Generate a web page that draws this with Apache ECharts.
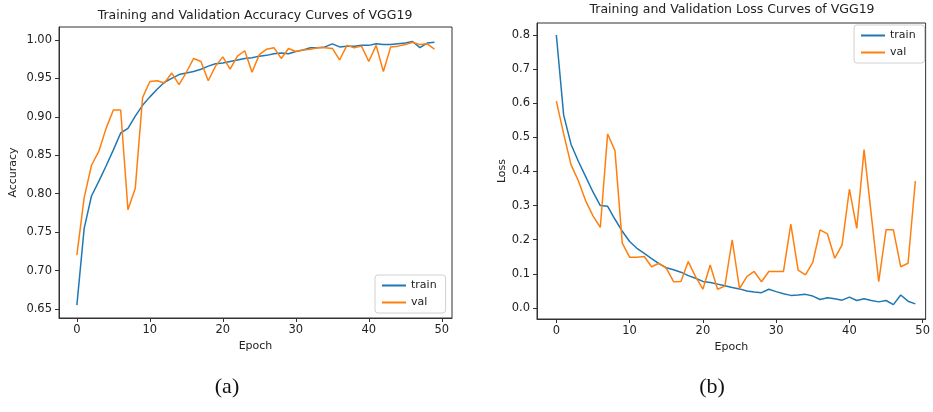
<!DOCTYPE html>
<html>
<head>
<meta charset="utf-8">
<script src="https://cdn.jsdelivr.net/npm/echarts@6/dist/echarts.min.js"></script>
<style>
html,body{margin:0;padding:0;background:#fff;}
#chart{width:933px;height:412px;}
</style>
</head>
<body>
<div id="chart"></div>
<script>
const epochs = Array.from({length: 50}, (_, i) => i);
const xTicks = [0, 10, 20, 30, 40, 50];
const accTicks = [0.65, 0.70, 0.75, 0.80, 0.85, 0.90, 0.95, 1.00];
const lossTicks = [0.0, 0.1, 0.2, 0.3, 0.4, 0.5, 0.6, 0.7, 0.8];

const trainAcc = [0.655,0.755,0.797,0.816,0.836,0.857,0.879,0.885,0.901,0.915,
  0.926,0.936,0.945,0.950,0.955,0.957,0.959,0.962,0.966,0.969,
  0.970,0.972,0.974,0.976,0.977,0.979,0.980,0.982,0.983,0.982,
  0.985,0.987,0.990,0.990,0.991,0.995,0.991,0.992,0.992,0.993,
  0.993,0.995,0.994,0.994,0.995,0.996,0.998,0.990,0.996,0.997];
const valAcc = [0.720,0.795,0.837,0.855,0.885,0.909,0.909,0.779,0.807,0.925,
  0.946,0.947,0.944,0.957,0.942,0.958,0.976,0.972,0.947,0.966,
  0.978,0.962,0.979,0.986,0.958,0.981,0.988,0.990,0.976,0.989,
  0.985,0.987,0.988,0.990,0.990,0.989,0.974,0.993,0.990,0.992,
  0.972,0.993,0.959,0.991,0.992,0.994,0.997,0.994,0.995,0.988];
const trainLoss = [0.800,0.565,0.480,0.430,0.385,0.340,0.300,0.298,0.260,0.225,
  0.195,0.175,0.160,0.145,0.130,0.118,0.112,0.105,0.095,0.087,
  0.078,0.075,0.070,0.065,0.060,0.056,0.050,0.047,0.045,0.055,
  0.048,0.042,0.037,0.038,0.040,0.035,0.025,0.030,0.027,0.023,
  0.032,0.022,0.027,0.022,0.018,0.022,0.010,0.038,0.020,0.012];
const valLoss = [0.606,0.510,0.420,0.373,0.314,0.270,0.236,0.510,0.461,0.190,
  0.149,0.149,0.151,0.121,0.131,0.117,0.077,0.078,0.136,0.092,
  0.055,0.126,0.055,0.064,0.200,0.057,0.092,0.107,0.077,0.107,
  0.107,0.107,0.246,0.111,0.097,0.134,0.229,0.217,0.146,0.185,
  0.348,0.233,0.464,0.270,0.077,0.229,0.229,0.121,0.131,0.372];

const blue = '#1f77b4', orange = '#ff7f0e';
const font = 'DejaVu Sans';
const pair = (ys) => epochs.map((e, i) => [e, ys[i]]);

function xAxisCfg(gridIndex, min, max) {
  return {
    type: 'value', gridIndex, min, max,
    name: 'Epoch', nameLocation: 'middle', nameGap: 23,
    nameTextStyle: {fontFamily: font, fontSize: 11, color: '#222'},
    axisLine: {show: true, onZero: false, lineStyle: {color: '#333', width: 1}},
    axisTick: {show: true, length: 4, lineStyle: {color: '#333'}, customValues: xTicks},
    axisLabel: {fontFamily: font, fontSize: 11.5, color: '#222', margin: 6, customValues: xTicks,
      formatter: v => String(v)},
    splitLine: {show: false}
  };
}
function yAxisCfg(gridIndex, min, max, ticks, digits, name, gap) {
  return {
    type: 'value', gridIndex, min, max,
    name, nameLocation: 'middle', nameGap: gap,
    nameTextStyle: {fontFamily: font, fontSize: 11, color: '#222'},
    axisLine: {show: true, onZero: false, lineStyle: {color: '#333', width: 1}},
    axisTick: {show: true, length: 4, lineStyle: {color: '#333'}, customValues: ticks},
    axisLabel: {fontFamily: font, fontSize: 11.5, color: '#222', margin: 7, customValues: ticks,
      formatter: v => Number(v).toFixed(digits)},
    splitLine: {show: false}
  };
}
function lineSeries(name, data, color, xi, yi) {
  return {
    type: 'line', name, data, xAxisIndex: xi, yAxisIndex: yi,
    showSymbol: false, symbol: 'none', smooth: false,
    lineStyle: {color, width: 1.5}, itemStyle: {color},
    animation: false
  };
}
const legendBase = {
  orient: 'vertical', icon: 'rect', itemWidth: 24, itemHeight: 2, itemGap: 6,
  padding: [5, 9, 5, 7], borderColor: '#d0d0d0', borderWidth: 1, borderRadius: 3,
  backgroundColor: 'rgba(255,255,255,0.85)',
  textStyle: {fontFamily: font, fontSize: 11, color: '#222'},
  data: ['train', 'val'], selectedMode: false
};

const chart = echarts.init(document.getElementById('chart'));
chart.setOption({
  backgroundColor: '#fff',
  animation: false,
  grid: [
    {left: 59, top: 27, width: 393, height: 291, show: true, borderColor: '#333', borderWidth: 1, backgroundColor: 'transparent'},
    {left: 537, top: 23, width: 390, height: 296, show: true, borderColor: '#333', borderWidth: 1, backgroundColor: 'transparent'}
  ],
  xAxis: [xAxisCfg(0, -2.45, 51.4), xAxisCfg(1, -2.64, 50.4)],
  yAxis: [
    yAxisCfg(0, 0.6383, 1.0169, accTicks, 2, 'Accuracy', 40),
    yAxisCfg(1, -0.0322, 0.835, lossTicks, 1, 'Loss', 29)
  ],
  legend: [
    Object.assign({}, legendBase, {left: 375, top: 275}),
    Object.assign({}, legendBase, {left: 854, top: 25})
  ],
  series: [
    lineSeries('train', pair(trainAcc), blue, 0, 0),
    lineSeries('val', pair(valAcc), orange, 0, 0),
    lineSeries('train', pair(trainLoss), blue, 1, 1),
    lineSeries('val', pair(valLoss), orange, 1, 1)
  ],
  graphic: [
    {type: 'text', x: 255, y: 16, style: {text: 'Training and Validation Accuracy Curves of VGG19', fontFamily: font, fontSize: 12.5, fill: '#222', textAlign: 'center', textVerticalAlign: 'middle'}},
    {type: 'text', x: 732, y: 10, style: {text: 'Training and Validation Loss Curves of VGG19', fontFamily: font, fontSize: 12.5, fill: '#222', textAlign: 'center', textVerticalAlign: 'middle'}},
    {type: 'text', x: 227, y: 387, style: {text: '(a)', fontFamily: 'Liberation Serif', fontSize: 22, fill: '#111', textAlign: 'center', textVerticalAlign: 'middle'}},
    {type: 'text', x: 712, y: 387, style: {text: '(b)', fontFamily: 'Liberation Serif', fontSize: 22, fill: '#111', textAlign: 'center', textVerticalAlign: 'middle'}}
  ]
});
</script>
</body>
</html>
